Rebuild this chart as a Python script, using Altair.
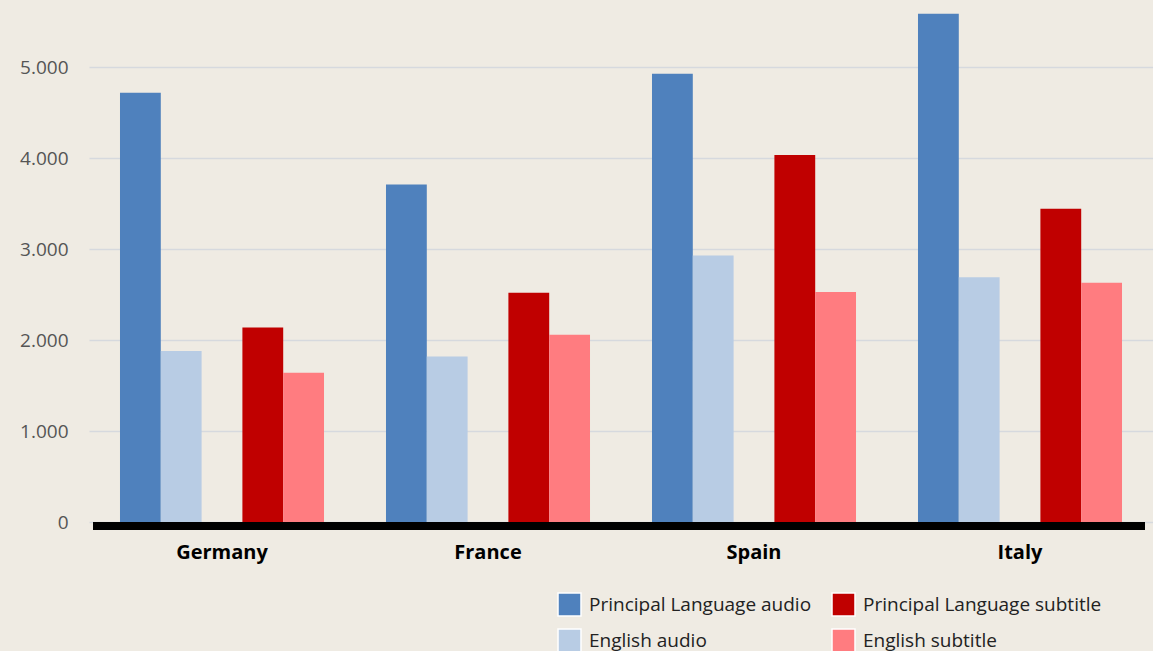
import altair as alt
import pandas as pd

countries = ["Germany", "France", "Spain", "Italy"]
series = ["Principal Language audio", "English audio", "Principal Language subtitle", "English subtitle"]
pl_audio = [4720, 3710, 4930, 5590]
en_audio = [1880, 1820, 2930, 2690]
pl_sub = [2140, 2520, 4035, 3445]
en_sub = [1640, 2060, 2530, 2630]
colors = ["#4f81bd", "#b8cce4", "#c00000", "#ff7c80"]
y_ticks = [0, 1000, 2000, 3000, 4000, 5000]

rows = []
for i, c in enumerate(countries):
    for s, vals in zip(series, [pl_audio, en_audio, pl_sub, en_sub]):
        rows.append({"country": c, "series": s, "value": vals[i]})
df = pd.DataFrame(rows)

offset_domain = [series[0], series[1], "gap", series[2], series[3]]

bars = alt.Chart(df).mark_bar(strokeWidth=0).encode(
    x=alt.X("country:N", sort=countries,
            scale=alt.Scale(paddingInner=0.233, paddingOuter=0.1165),
            axis=alt.Axis(title=None, labelAngle=0, domain=False, ticks=False,
                          labelFont="Open Sans", labelFontSize=20, labelFontWeight="bold",
                          labelColor="#000000", labelPadding=20, grid=False)),
    xOffset=alt.XOffset("series:N", scale=alt.Scale(domain=offset_domain, paddingInner=0, paddingOuter=0)),
    y=alt.Y("value:Q", scale=alt.Scale(domain=[0, 5740], nice=False),
            axis=alt.Axis(title=None, values=y_ticks, domain=False, ticks=False,
                          labelFont="Open Sans", labelFontSize=19, labelColor="#555555",
                          labelPadding=21, gridColor="#d6d9de", gridWidth=1.5,
                          labelExpr="replace(format(datum.value, ','), ',', '.')")),
    color=alt.Color("series:N", scale=alt.Scale(domain=series, range=colors),
                    legend=alt.Legend(title=None, orient="none", legendX=468, legendY=592,
                                      direction="vertical", columns=2,
                                      values=series,
                                      symbolType="square", symbolSize=529,
                                      symbolStrokeColor="#ffffff", symbolStrokeWidth=1.5,
                                      symbolOpacity=1,
                                      labelFont="Open Sans", labelFontSize=19, labelColor="#222222",
                                      labelOffset=7, columnPadding=17, rowPadding=7,
                                      labelLimit=400)),
)

baseline = alt.Chart(pd.DataFrame({"v": [0]})).mark_rule(
    color="#000000", strokeWidth=8, yOffset=4
).encode(x=alt.value(4), x2=alt.value(1056), y=alt.Y("v:Q"))

chart = alt.layer(bars, baseline).properties(
    width=1064, height=522,
    background="#efebe3",
    padding={"left": 89, "top": 0, "right": 0, "bottom": 129},
    autosize=alt.AutoSizeParams(type="none"),
).configure_view(stroke=None)

chart.save("out.html", embed_options={"renderer": "svg", "actions": False})
